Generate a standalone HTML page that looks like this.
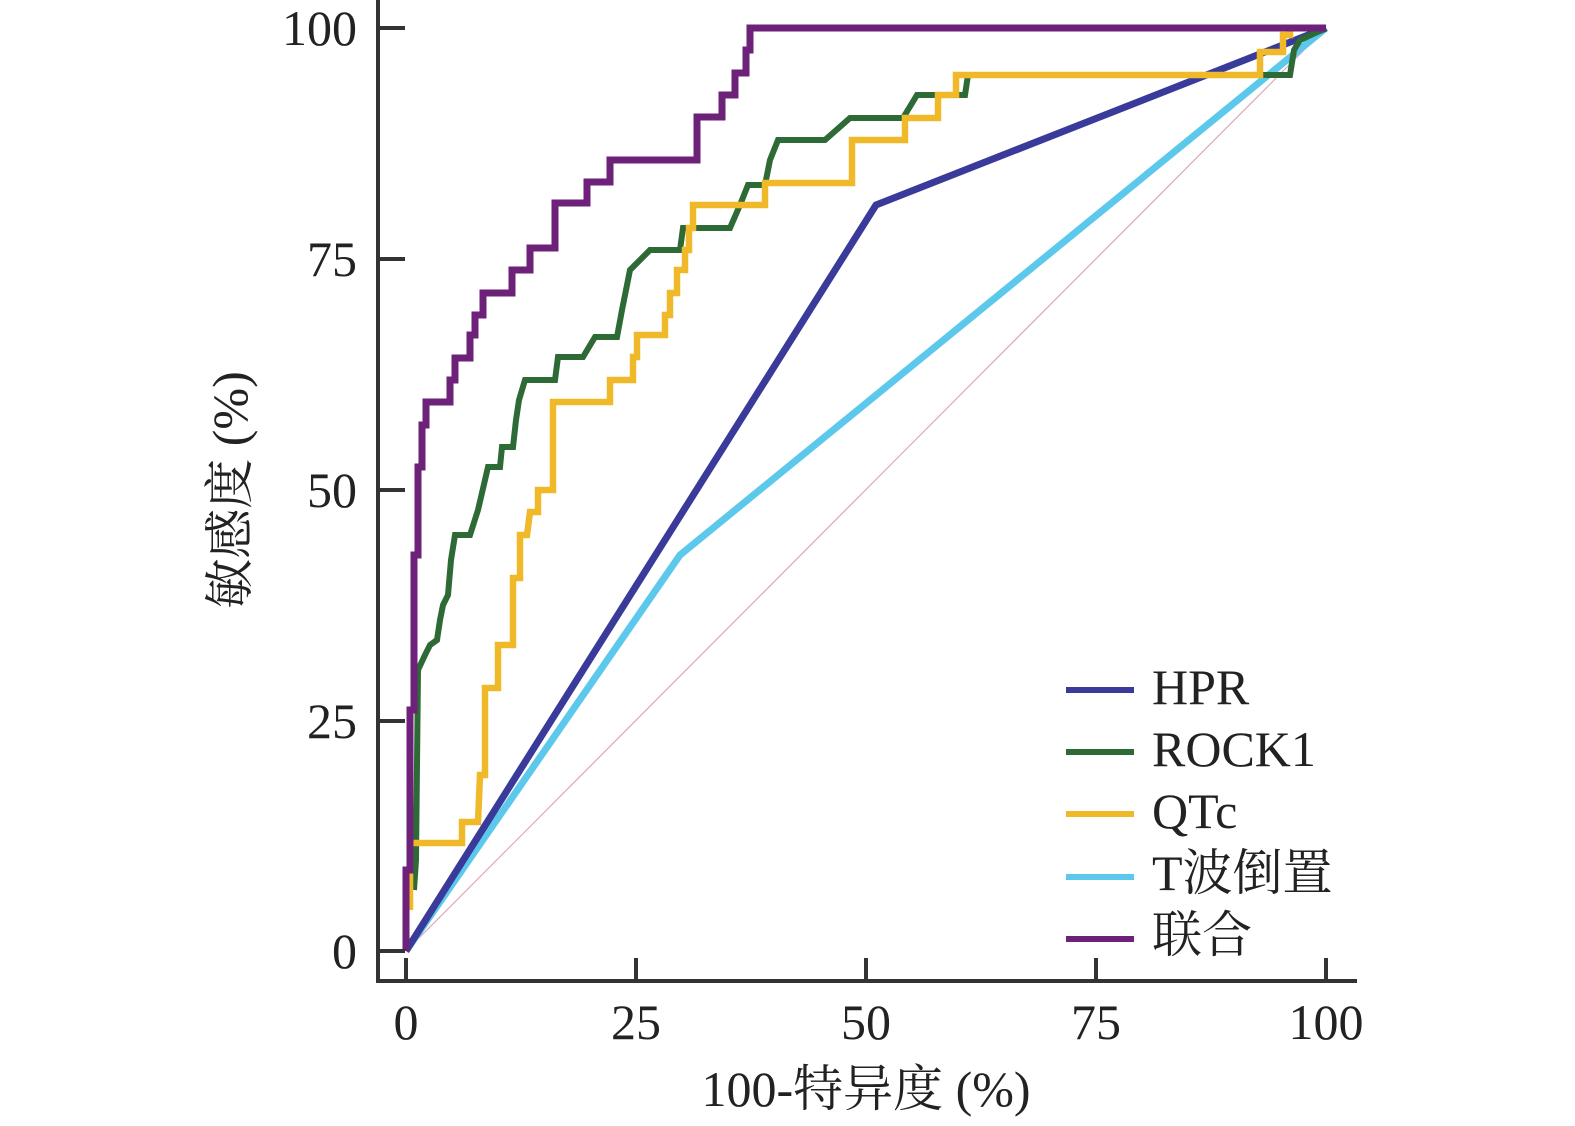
<!DOCTYPE html>
<html><head><meta charset="utf-8"><style>
html,body{margin:0;padding:0;background:#fff;}
svg{display:block;}
text{font-family:"Liberation Serif","Noto Serif CJK SC","Noto Sans CJK SC",serif;fill:#222;}
</style></head><body>
<svg width="1575" height="1126" viewBox="0 0 1575 1126">
<g fill="none" stroke-linejoin="miter" stroke-linecap="butt">
<line x1="406" y1="951" x2="1326" y2="28" stroke="#d8a8b8" stroke-width="1.2"/>
<polyline stroke="#5bc8ec" stroke-width="7" points="406,951 680,555 1326,28"/>
<polyline stroke="#3a3a9a" stroke-width="7" points="406,951 876,205 1326,28"/>
<polyline stroke="#2d6a35" stroke-width="6" points="414,890 416,860 418,670 425,655 430,645 437,640 440,620 443,605 448,595 451,560 455,535 470,535 478,510 485,480 488,467 500,467 502,447 513,447 516,420 519,400 525,380 555,380 558,357 583,357 595,337 617,337 622,310 630,270 650,250 680,250 683,228 730,228 740,205 748,185 765,185 770,160 778,140 825,140 850,118 903,118 917,95 965,95 968,75 1290,75 1294,50 1300,40 1326,28"/>
<polyline stroke="#f0b92a" stroke-width="6.5" points="410,910 410,843 462,843 462,822 478,822 480,775 485,775 485,688 498,688 498,645 513,645 513,578 520,578 520,535 527,535 530,512 538,512 538,490 553,490 553,402 610,402 610,380 633,380 633,357 637,357 637,335 665,335 665,315 670,315 670,293 677,293 677,270 685,270 685,250 689,250 689,228 693,228 693,205 765,205 765,183 852,183 852,140 905,140 905,118 938,118 938,95 956,95 956,75 1260,75 1260,52 1283,52 1283,35 1290,35 1290,28"/>
<polyline stroke="#6e2178" stroke-width="7" points="406,951 406,870 410,870 410,710 414,710 414,555 418,555 418,467 422,467 422,425 426,425 426,402 450,402 450,380 455,380 455,358 470,358 470,335 475,335 475,315 483,315 483,293 512,293 512,270 530,270 530,248 555,248 555,203 587,203 587,182 610,182 610,160 697,160 697,117 722,117 722,95 735,95 735,73 746,73 746,50 750,50 750,28 1326,28"/>
</g>
<g stroke="#333" stroke-width="4" fill="none">
<line x1="378" y1="0" x2="378" y2="983"/>
<line x1="376" y1="981" x2="1357" y2="981"/>
<line x1="378" y1="28" x2="405" y2="28"/>
<line x1="378" y1="259" x2="405" y2="259"/>
<line x1="378" y1="490" x2="405" y2="490"/>
<line x1="378" y1="721" x2="405" y2="721"/>
<line x1="378" y1="951" x2="405" y2="951"/>
<line x1="406" y1="981" x2="406" y2="958"/>
<line x1="636" y1="981" x2="636" y2="958"/>
<line x1="866" y1="981" x2="866" y2="958"/>
<line x1="1096" y1="981" x2="1096" y2="958"/>
<line x1="1326" y1="981" x2="1326" y2="958"/>
</g>
<g font-size="50" text-anchor="end">
<text x="357" y="45">100</text>
<text x="357" y="276">75</text>
<text x="357" y="507">50</text>
<text x="357" y="738">25</text>
<text x="357" y="968">0</text>
</g>
<g font-size="50" text-anchor="middle">
<text x="406" y="1039">0</text>
<text x="636" y="1039">25</text>
<text x="866" y="1039">50</text>
<text x="1096" y="1039">75</text>
<text x="1326" y="1039">100</text>
<text x="866" y="1106">100-特异度 (%)</text>
<text transform="translate(247,490) rotate(-90)">敏感度 (%)</text>
</g>
<g stroke-width="6">
<line x1="1066" y1="690" x2="1134" y2="690" stroke="#3a3a9a"/>
<line x1="1066" y1="752" x2="1134" y2="752" stroke="#2d6a35"/>
<line x1="1066" y1="814" x2="1134" y2="814" stroke="#f0b92a"/>
<line x1="1066" y1="877" x2="1134" y2="877" stroke="#5bc8ec"/>
<line x1="1066" y1="939" x2="1134" y2="939" stroke="#6e2178"/>
</g>
<g font-size="50">
<text x="1152" y="704">HPR</text>
<text x="1152" y="766">ROCK1</text>
<text x="1152" y="828">QTc</text>
<text x="1152" y="890">T波倒置</text>
<text x="1152" y="952">联合</text>
</g>
</svg>
</body></html>
